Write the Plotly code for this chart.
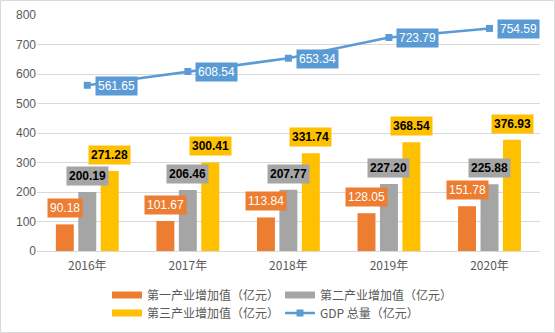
import plotly.graph_objects as go

years = ["2016年", "2017年", "2018年", "2019年", "2020年"]
primary = [90.18, 101.67, 113.84, 128.05, 151.78]
secondary = [200.19, 206.46, 207.77, 227.20, 225.88]
tertiary = [271.28, 300.41, 331.74, 368.54, 376.93]
gdp = [561.65, 608.54, 653.34, 723.79, 754.59]

names = ["第一产业增加值（亿元）", "第二产业增加值（亿元）", "第三产业增加值（亿元）", "GDP 总量（亿元）"]
colors = ["#ED7D31", "#A5A5A5", "#FFC000", "#5B9BD5"]

FONT = "Liberation Sans, Noto Sans CJK SC, sans-serif"
CJK = "Noto Sans CJK SC, sans-serif"

fig = go.Figure()
legends = ["legend", "legend", "legend2"]
for vals, name, col, lg in zip([primary, secondary, tertiary], names[:3], colors[:3], legends):
    fig.add_trace(go.Bar(x=years, y=vals, name=name, marker_color=col,
                         marker_line_width=0, hoverinfo="skip", showlegend=False,
                         legendgroup=name))
    # wide rectangular legend swatch (Excel style)
    fig.add_trace(go.Scatter(x=[None], y=[None], name=name, mode="lines",
                             line=dict(color=col, width=7), legend=lg,
                             legendgroup=name))
fig.add_trace(go.Scatter(x=years, y=gdp, name=names[3], mode="lines+markers",
                         line=dict(color=colors[3], width=2.5), legend="legend2",
                         marker=dict(symbol="square", size=7, color=colors[3])))

ann = []
shifts = [-22.5, 0, 22.5]
txtcol = ["white", "black", "black"]
bold = [False, True, True]
for k, vals in enumerate([primary, secondary, tertiary]):
    for x, v in zip(years, vals):
        t = f"{v:.2f}"
        if bold[k]:
            t = f"<b>{t}</b>"
        ann.append(dict(x=x, y=v, xref="x", yref="y", text=t, showarrow=False,
                        xshift=shifts[k], yshift=6, yanchor="bottom",
                        bgcolor=colors[k], borderpad=2,
                        font=dict(family=FONT, size=12, color=txtcol[k])))
for x, v in zip(years, gdp):
    ann.append(dict(x=x, y=v, xref="x", yref="y", text=f"{v:.2f}", showarrow=False,
                    xshift=29, yshift=-1, bgcolor=colors[3], borderpad=2,
                    font=dict(family=FONT, size=12, color="white")))

legfont = dict(family=CJK, size=12, color="#595959")
legx = 107 / 555
fig.update_layout(
    width=555, height=333,
    margin=dict(l=37, r=15, t=15, b=82, autoexpand=False),
    paper_bgcolor="white", plot_bgcolor="white",
    barmode="group", bargap=0.33, bargroupgap=0.2,
    showlegend=True,
    legend=dict(orientation="h", xref="container", yref="container",
                x=legx, xanchor="left", y=1 - 295 / 333, yanchor="middle",
                entrywidth=128, entrywidthmode="pixels", tracegroupgap=0,
                font=legfont, itemwidth=30, bgcolor="rgba(0,0,0,0)"),
    legend2=dict(orientation="h", xref="container", yref="container",
                 x=legx, xanchor="left", y=1 - 313 / 333, yanchor="middle",
                 entrywidth=128, entrywidthmode="pixels", tracegroupgap=0,
                 font=legfont, itemwidth=30, bgcolor="rgba(0,0,0,0)"),
    annotations=ann,
    shapes=[dict(type="rect", xref="paper", yref="paper",
                 x0=(0.5 - 37) / 503, x1=(554.5 - 37) / 503,
                 y0=(251 - 332.5) / 236, y1=(251 - 0.5) / 236,
                 line=dict(color="#D9D9D9", width=1), fillcolor="rgba(0,0,0,0)",
                 layer="below")],
)
fig.update_yaxes(range=[0, 800], dtick=100, gridcolor="#D9D9D9", gridwidth=1,
                 zeroline=False, showline=False,
                 tickfont=dict(family=FONT, size=12, color="#595959"))
fig.update_xaxes(showline=True, linecolor="#D9D9D9", ticks="", ticklabelstandoff=4,
                 tickfont=dict(family=CJK, size=12, color="#595959"))

fig.write_html("out.html")
